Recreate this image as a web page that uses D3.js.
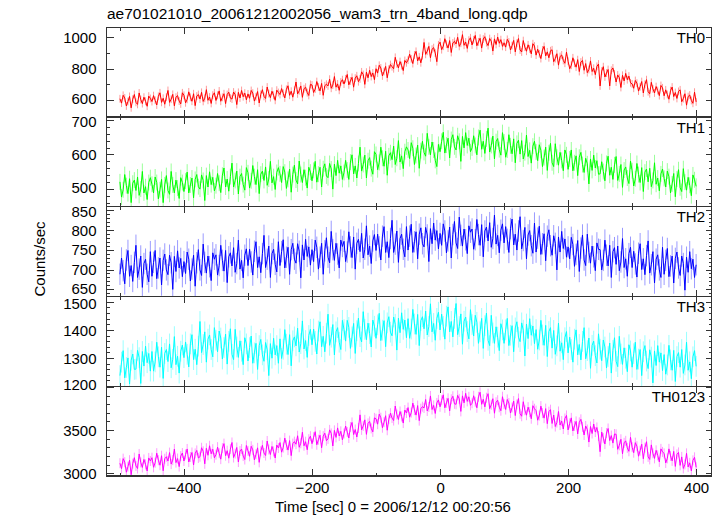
<!DOCTYPE html>
<html><head><meta charset="utf-8">
<script src="https://cdn.jsdelivr.net/npm/d3@7"></script>
<style>
body{margin:0;background:#fff}
text{font-family:"Liberation Sans",Arial,Helvetica,sans-serif}
</style>
</head><body><svg id="c" width="722" height="516"></svg>
<script>
const title = "ae701021010_20061212002056_wam3_trn_4band_long.qdp";
const xTitle = "Time [sec] 0 = 2006/12/12 00:20:56";
const yTitle = "Counts/sec";
const bands = ["TH0","TH1","TH2","TH3","TH0123"];
const colors = ["#ff0000","#00ff00","#0000ff","#00ffff","#ff00ff"];
const tStart = -500, tStep = 2.5;

const th0 = [
608,580,630,613,562,590,623,550,605,635,585,572,645,603,577,618,592,560,625,610,
590,628,598,568,623,646,585,611,573,618,661,585,605,636,563,618,628,593,575,646,
630,582,604,652,617,592,640,564,625,635,606,649,591,611,666,598,619,578,631,646,
597,630,658,592,617,640,577,635,650,612,606,651,634,571,649,613,661,621,644,601,
639,611,661,644,593,621,654,581,636,666,623,610,683,641,615,656,630,598,663,648,
635,673,643,613,668,691,630,656,618,663,715,639,659,690,617,672,682,647,629,700,
696,648,670,718,683,658,706,630,691,701,690,733,675,695,750,682,703,662,715,730,
702,735,763,697,722,745,682,740,755,717,735,780,763,700,778,742,790,750,773,730,
800,772,822,805,754,782,815,742,797,827,813,800,873,831,805,846,820,788,853,838,
855,893,863,833,888,911,850,876,838,883,968,892,912,943,870,925,935,900,845,953,
970,922,944,992,957,932,980,904,965,975,958,1001,943,963,1018,950,971,930,983,998,
952,985,1013,947,972,995,932,990,1005,967,948,993,976,913,991,955,1003,963,986,943,
966,938,988,971,920,948,981,908,963,993,920,907,980,938,912,953,927,895,960,945,
887,925,895,865,920,943,882,908,870,915,921,845,865,896,823,878,888,853,835,906,
848,800,822,870,835,810,858,782,843,853,790,833,775,795,850,782,803,762,815,830,
690,785,813,747,772,795,690,790,805,767,715,760,743,680,758,722,770,730,753,710,
703,675,725,708,657,685,718,645,700,730,653,640,713,671,645,686,660,628,693,678,
627,665,635,605,660,683,622,648,610,655,665,589,609,640,567,622,632,597,579,650,
588];

const th1 = [
521,477,498,542,510,487,530,461,517,526,496,535,482,500,551,489,507,470,519,533,
514,489,535,519,472,498,528,461,512,539,496,485,551,512,489,526,503,473,533,519,
493,523,549,489,512,532,475,528,542,507,500,541,525,467,539,506,550,513,534,495,
510,545,517,490,540,561,506,529,494,536,575,506,525,552,486,536,545,513,497,562,
547,503,524,568,536,513,556,487,543,552,525,564,511,529,580,518,536,499,548,562,
544,519,565,549,502,528,558,491,542,569,526,515,581,542,519,556,533,503,563,549,
524,554,580,520,543,563,506,559,573,538,533,574,558,500,572,539,583,546,567,528,
548,583,555,528,578,599,544,567,532,574,621,552,571,598,532,582,591,559,543,608,
600,556,577,621,589,566,609,540,596,605,585,624,571,589,640,578,596,559,608,622,
613,588,634,618,571,597,627,560,611,638,606,595,661,622,599,636,613,583,565,629,
608,638,664,604,627,647,590,643,657,622,613,654,638,580,652,619,663,626,647,608,
619,654,626,599,649,670,615,638,603,645,676,607,626,653,587,637,646,614,598,663,
636,592,613,657,625,602,645,576,632,641,601,640,587,605,656,594,612,575,624,638,
607,582,628,612,565,591,621,554,605,632,576,565,631,592,569,606,583,553,613,599,
557,587,613,553,576,596,539,592,606,571,548,589,573,515,587,554,598,561,582,543,
544,579,551,524,574,595,540,563,528,570,594,525,544,571,505,555,564,532,516,581,
553,509,530,574,542,519,562,493,549,558,521,560,507,525,576,514,532,495,544,558,
531,506,552,536,489,515,545,478,529,556,504,493,559,520,497,534,511,481,541,527,
508];

const th2 = [
688,729,697,664,724,748,683,710,670,718,761,680,701,734,655,715,726,688,669,745,
683,718,748,677,704,729,661,723,739,699,687,736,717,650,733,695,747,704,728,682,
720,690,744,726,671,701,736,658,717,750,699,685,764,718,691,734,707,672,742,726,
737,686,710,761,723,696,748,667,732,742,709,755,693,715,774,701,723,679,736,752,
710,751,719,686,746,770,705,732,692,740,786,705,726,759,680,740,751,713,694,770,
710,745,775,704,731,756,688,750,766,726,716,765,746,679,762,724,776,733,757,711,
750,720,774,756,701,731,766,688,747,780,731,717,796,750,723,766,739,704,774,758,
771,720,744,795,757,730,782,701,766,776,745,791,729,751,810,737,759,715,772,788,
748,789,757,724,784,808,743,770,730,778,824,743,764,797,718,778,789,751,732,808,
749,784,814,743,770,795,727,789,805,765,757,806,787,720,803,765,817,774,798,752,
791,761,815,797,742,772,807,729,788,821,767,753,832,786,759,802,775,740,810,794,
802,751,775,826,788,761,813,732,797,807,772,818,756,778,837,764,786,742,799,815,
767,808,776,743,803,827,762,789,749,797,833,752,773,806,727,787,798,760,741,817,
744,779,809,738,765,790,722,784,800,760,736,785,766,699,782,744,796,753,777,731,
757,727,781,763,708,738,773,695,754,787,724,710,789,743,716,759,732,697,767,751,
750,699,723,774,736,709,761,680,745,755,713,759,697,719,778,705,727,683,740,756,
705,746,714,681,741,765,700,727,687,735,772,691,712,745,666,726,737,699,680,756,
688,723,753,682,709,734,666,728,744,704,685,734,715,648,731,693,745,702,726,680,
712];

const th3 = [
1237,1285,1326,1229,1266,1300,1207,1292,1314,1259,1260,1327,1301,1209,1323,1271,1342,1283,1316,1253,
1323,1253,1286,1356,1304,1267,1338,1227,1316,1330,1287,1350,1265,1295,1376,1276,1306,1246,1324,1346,
1301,1357,1313,1268,1350,1383,1294,1331,1276,1342,1430,1319,1348,1393,1285,1367,1382,1330,1304,1408,
1363,1322,1396,1371,1296,1337,1385,1278,1359,1404,1313,1294,1402,1339,1302,1361,1324,1276,1372,1350,
1289,1337,1378,1281,1318,1352,1259,1344,1366,1311,1288,1355,1329,1237,1351,1299,1370,1311,1344,1281,
1368,1298,1331,1401,1349,1312,1383,1272,1361,1375,1343,1406,1321,1351,1432,1332,1362,1302,1380,1402,
1347,1403,1359,1314,1396,1429,1340,1377,1322,1388,1456,1345,1374,1419,1311,1393,1408,1356,1330,1434,
1401,1360,1434,1409,1334,1375,1423,1316,1397,1442,1376,1357,1465,1402,1365,1424,1387,1339,1435,1413,
1370,1418,1459,1362,1399,1433,1340,1425,1447,1392,1379,1446,1420,1328,1442,1390,1461,1402,1435,1372,
1440,1370,1403,1473,1421,1384,1455,1344,1433,1447,1404,1467,1382,1412,1493,1393,1423,1363,1441,1463,
1400,1456,1412,1367,1449,1482,1393,1430,1375,1441,1494,1383,1412,1457,1349,1431,1446,1394,1368,1472,
1419,1378,1452,1427,1352,1393,1441,1334,1415,1460,1363,1344,1452,1389,1352,1411,1374,1326,1422,1400,
1352,1400,1441,1344,1381,1415,1322,1407,1429,1374,1358,1425,1399,1307,1421,1369,1440,1381,1414,1351,
1401,1331,1364,1434,1382,1345,1416,1305,1394,1408,1335,1398,1313,1343,1424,1324,1354,1294,1372,1394,
1318,1374,1330,1285,1367,1400,1311,1348,1293,1359,1408,1297,1326,1371,1263,1345,1360,1308,1282,1386,
1331,1290,1364,1339,1264,1305,1353,1246,1327,1372,1288,1269,1377,1314,1277,1336,1299,1251,1347,1325,
1267,1315,1356,1259,1296,1330,1237,1322,1344,1289,1262,1329,1303,1211,1325,1273,1344,1285,1318,1255,
1312,1242,1275,1345,1293,1256,1327,1216,1305,1319,1267,1330,1245,1275,1356,1256,1286,1226,1304,1326,
1270];

const th0123 = [
3117,3054,3170,3129,3013,3077,3152,2984,3112,3181,3085,3056,3224,3126,3068,3161,3103,3027,3178,3143,
3181,3070,3123,3233,3152,3094,3204,3030,3169,3192,3142,3240,3107,3153,3281,3124,3171,3078,3200,3235,
3143,3218,3282,3131,3189,3241,3096,3230,3265,3178,3192,3296,3255,3110,3290,3209,3319,3226,3279,3180,
3216,3303,3233,3164,3291,3344,3204,3262,3175,3280,3357,3183,3229,3299,3131,3258,3281,3200,3160,3322,
3260,3197,3313,3272,3156,3220,3295,3127,3255,3324,3235,3206,3374,3276,3218,3311,3253,3177,3328,3293,
3356,3245,3298,3408,3327,3269,3379,3205,3344,3367,3337,3435,3302,3348,3476,3319,3366,3273,3395,3430,
3343,3418,3482,3331,3389,3441,3296,3430,3465,3378,3399,3503,3462,3317,3497,3416,3526,3433,3486,3387,
3461,3548,3478,3409,3536,3589,3449,3507,3420,3525,3677,3503,3549,3619,3451,3578,3601,3520,3480,3642,
3632,3569,3685,3644,3528,3592,3667,3499,3627,3696,3640,3611,3779,3681,3623,3716,3658,3582,3733,3698,
3761,3650,3703,3813,3732,3674,3784,3610,3749,3772,3757,3855,3722,3768,3896,3739,3786,3693,3815,3850,
3770,3845,3909,3758,3816,3868,3723,3857,3892,3805,3799,3903,3862,3717,3897,3816,3926,3833,3886,3787,
3811,3898,3828,3759,3886,3939,3799,3857,3770,3875,3922,3748,3794,3864,3696,3823,3846,3765,3725,3887,
3802,3739,3855,3814,3698,3762,3837,3669,3797,3866,3690,3661,3829,3731,3673,3766,3708,3632,3783,3748,
3726,3615,3668,3778,3697,3639,3749,3575,3714,3737,3577,3675,3542,3588,3716,3559,3606,3513,3635,3670,
3503,3578,3642,3491,3549,3601,3456,3590,3625,3538,3444,3548,3507,3362,3542,3461,3571,3478,3531,3432,
3250,3478,3408,3339,3466,3519,3379,3437,3350,3455,3452,3278,3324,3394,3226,3353,3376,3295,3255,3417,
3302,3239,3355,3314,3198,3262,3337,3169,3297,3366,3190,3161,3329,3231,3173,3266,3208,3132,3283,3248,
3231,3120,3173,3283,3202,3144,3254,3080,3219,3242,3092,3190,3057,3103,3231,3074,3121,3028,3150,3185,
3070];

const series = [th0, th1, th2, th3, th0123];
const errors = [25, 23, 27, 37, 58];
const yDomains = [[491,1065],[449,708],[632,858],[1199,1519],[2969,4008]];
const yLabelTicks = [[600,800,1000],[500,600,700],[650,700,750,800,850],[1200,1300,1400,1500],[3000,3500]];
const yMajorStep = [200,100,50,100,500];
const yMinorStep = [100,20,10,20,100];
const xDomain = [-521, 424];
const xLabelTicks = [-400,-200,0,200,400];
const xMinorStep = 100, xMajorStep = 200;

const svg = d3.select("#c");
svg.append("rect").attr("width",722).attr("height",516).attr("fill","#fff");
const L = 106.5, R = 711.5, T = 27.3, B = 476;
const ph = (B - T) / bands.length;
const frameColor = "#333";

const x = d3.scaleLinear().domain(xDomain).range([L, R]);
const defs = svg.append("defs");

function ticksOf(dom, step){
  const s = Math.ceil(dom[0]/step)*step;
  return d3.range(s, dom[1] + 1e-9, step);
}
function isMul(v, step){ return Math.abs(v/step - Math.round(v/step)) < 1e-9; }

series.forEach((vals, i) => {
  const top = T + i*ph, bot = top + ph;
  const y = d3.scaleLinear().domain(yDomains[i]).range([bot, top]);
  const g = svg.append("g");
  defs.append("clipPath").attr("id","clip"+i).append("rect")
    .attr("x", L).attr("y", top).attr("width", R-L).attr("height", ph);
  const data = vals.map((v, k) => ({t: tStart + k*tStep, v}));
  const dg = g.append("g").attr("clip-path", `url(#clip${i})`);
  dg.selectAll("line.err").data(data).join("line").attr("class","err")
    .attr("x1", d => x(d.t)).attr("x2", d => x(d.t))
    .attr("y1", d => y(d.v - errors[i])).attr("y2", d => y(d.v + errors[i]))
    .attr("stroke", colors[i]).attr("stroke-opacity", 0.4).attr("stroke-width", 1);
  dg.append("path").datum(data)
    .attr("d", d3.line().x(d => x(d.t)).y(d => y(d.v)))
    .attr("fill","none").attr("stroke", colors[i]).attr("stroke-width", 1);

  const minorY = ticksOf(yDomains[i], yMinorStep[i]);
  const majY = minorY.filter(v => isMul(v, yMajorStep[i]));
  const minY = minorY.filter(v => !isMul(v, yMajorStep[i]));
  [[majY,7],[minY,3.5]].forEach(([vals2, len]) => {
    const al = g.append("g").attr("transform",`translate(${L},0)`)
      .call(d3.axisLeft(y).tickValues(vals2).tickSize(-len).tickFormat(""));
    const ar = g.append("g").attr("transform",`translate(${R},0)`)
      .call(d3.axisRight(y).tickValues(vals2).tickSize(-len*0.75).tickFormat(""));
    [al, ar].forEach(a => { a.select(".domain").remove(); a.selectAll("line").attr("stroke", frameColor).attr("shape-rendering","crispEdges"); });
  });
  const lab = g.append("g").attr("transform",`translate(${L},0)`)
    .call(d3.axisLeft(y).tickValues(yLabelTicks[i]).tickSize(0).tickPadding(10).tickFormat(d3.format("d")));
  lab.select(".domain").remove();
  const nTicks = yLabelTicks[i].length;
  lab.selectAll("text").attr("font-size", 15).attr("fill","#000")
    .attr("dy", (d, k) => (k === 0 && i < series.length - 1) ? "0.25em" : (k === nTicks - 1 && i > 0 && d > yDomains[i][1] - 0.1*(yDomains[i][1]-yDomains[i][0]) ? "0.42em" : "0.35em"))
    .attr("font-family",'"Liberation Sans",Arial,sans-serif');

  const allX = ticksOf([-500, 400], xMinorStep);
  const majX = allX.filter(v => isMul(v, xMajorStep));
  const minX = allX.filter(v => !isMul(v, xMajorStep));
  [[majX,6.7],[minX,3.4]].forEach(([vals2, len]) => {
    const at = g.append("g").attr("transform",`translate(0,${top})`)
      .call(d3.axisTop(x).tickValues(vals2).tickSize(-len).tickFormat(""));
    const ab = g.append("g").attr("transform",`translate(0,${bot})`)
      .call(d3.axisBottom(x).tickValues(vals2).tickSize(-len).tickFormat(""));
    [at, ab].forEach(a => { a.select(".domain").remove(); a.selectAll("line").attr("stroke", frameColor).attr("shape-rendering","crispEdges"); });
  });

  g.append("rect").attr("x", L).attr("y", top).attr("width", R-L).attr("height", ph)
    .attr("fill","none").attr("stroke", frameColor).attr("stroke-width",1.2)
    .attr("shape-rendering","crispEdges");

  g.append("text").attr("x", 705).attr("y", top + 15.5).attr("text-anchor","end")
    .attr("font-size", 15).text(bands[i]);

  if (i === series.length - 1) {
    const ax = g.append("g").attr("transform",`translate(0,${bot})`)
      .call(d3.axisBottom(x).tickValues(xLabelTicks).tickSize(0).tickPadding(6).tickFormat(d3.format("d")));
    ax.select(".domain").remove();
    ax.selectAll("text").attr("font-size", 15).attr("fill","#000")
      .attr("font-family",'"Liberation Sans",Arial,sans-serif');
  }
});

svg.append("text").attr("x", 107).attr("y", 19).attr("font-size", 15.5).text(title);
svg.append("text").attr("x", 275).attr("y", 512).attr("font-size", 15).text(xTitle);
svg.append("text").attr("transform","translate(45,259) rotate(-90)").attr("text-anchor","middle")
  .attr("font-size", 15).text(yTitle);
</script>
</body></html>
